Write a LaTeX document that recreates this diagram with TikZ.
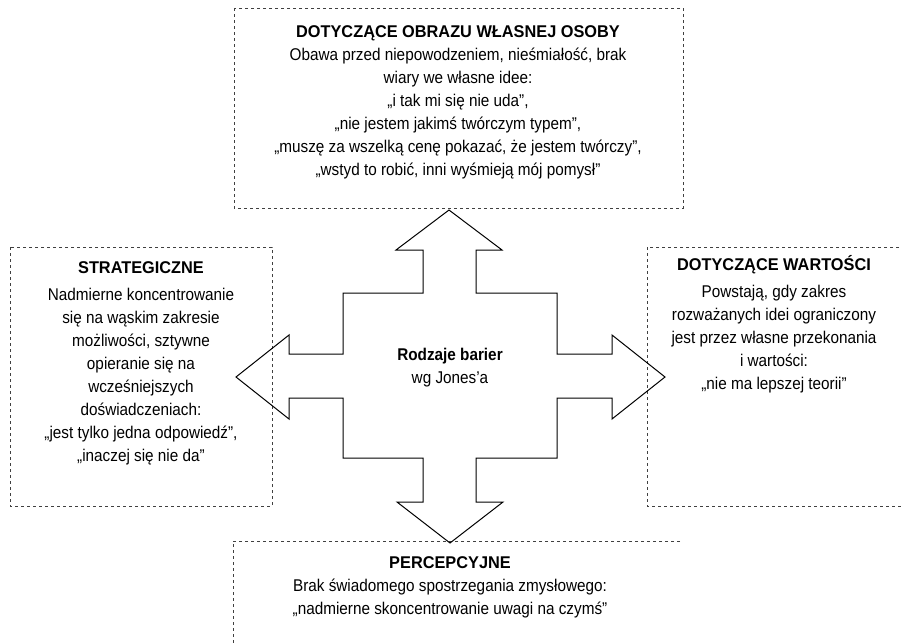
\documentclass[tikz,border=0pt]{standalone}
\usepackage{fontspec}
\setmainfont{Liberation Sans}[FakeStretch=0.9]
\newfontfamily\titlefont{Liberation Sans}[FakeStretch=0.96]
\usepackage{tikz}

\begin{document}
\begin{tikzpicture}[x=1pt, y=-1pt, line width=.6,
    box/.style={draw=black!75, dash pattern=on 3pt off 3pt, line width=.5},
    txt/.style={align=center, inner sep=0, anchor=north, font=\fontsize{17}{23}\selectfont}]
    \useasboundingbox (0,0) rectangle (902,643);
    % ramki
    \draw[box] (234,8) rectangle (683,208);
    \draw[box] (10,247) rectangle (272,506);
    \draw[box] (647,247) rectangle (910,506);
    \draw[box] (680,541) -- (233,541) -- (233,650);
    % strzalka
    \draw[line width=1] (449,210) -- (502,250) -- (476,250) -- (476,293)
        -- (557,293) -- (557,354) -- (612,354) -- (612,335) -- (665,377)
        -- (612,419) -- (612,398) -- (557,398) -- (557,458) -- (476,458)
        -- (476,502) -- (503,502) -- (450,543) -- (397,502) -- (423,502)
        -- (423,458) -- (343,458) -- (343,398) -- (289,398) -- (289,419)
        -- (236,377) -- (289,335) -- (289,354) -- (343,354) -- (343,293)
        -- (423,293) -- (423,250) -- (396,250) -- cycle;
    % teksty
    \node[txt] (toptext) at (458,21) {\strut\titlefont\bfseries DOTYCZĄCE OBRAZU WŁASNEJ OSOBY\\
        Obawa przed niepowodzeniem, nieśmiałość, brak\\
        wiary we własne idee:\\
        „i tak mi się nie uda”,\\
        „nie jestem jakimś twórczym typem”,\\
        „muszę za wszelką cenę pokazać, że jestem twórczy”,\\
        „wstyd to robić, inni wyśmieją mój pomysł”};
    \node[txt] (lefttext) at (141,257) {\strut\titlefont\bfseries STRATEGICZNE\\[4pt]
        Nadmierne koncentrowanie\\
        się na wąskim zakresie\\
        możliwości, sztywne\\
        opieranie się na\\
        wcześniejszych\\
        doświadczeniach:\\
        „jest tylko jedna odpowiedź”,\\
        „inaczej się nie da”};
    \node[txt] (righttext) at (774,254) {\strut\titlefont\bfseries DOTYCZĄCE WARTOŚCI\\[4pt]
        Powstają, gdy zakres\\
        rozważanych idei ograniczony\\
        jest przez własne przekonania\\
        i wartości:\\
        „nie ma lepszej teorii”};
    \node[txt] (bottomtext) at (450,552) {\strut\titlefont\bfseries PERCEPCYJNE\\
        Brak świadomego spostrzegania zmysłowego:\\
        „nadmierne skoncentrowanie uwagi na czymś”};
    \node[txt] (centertext) at (450,344) {\strut\textbf{Rodzaje barier}\\
        wg Jones’a};
\end{tikzpicture}
\end{document}
